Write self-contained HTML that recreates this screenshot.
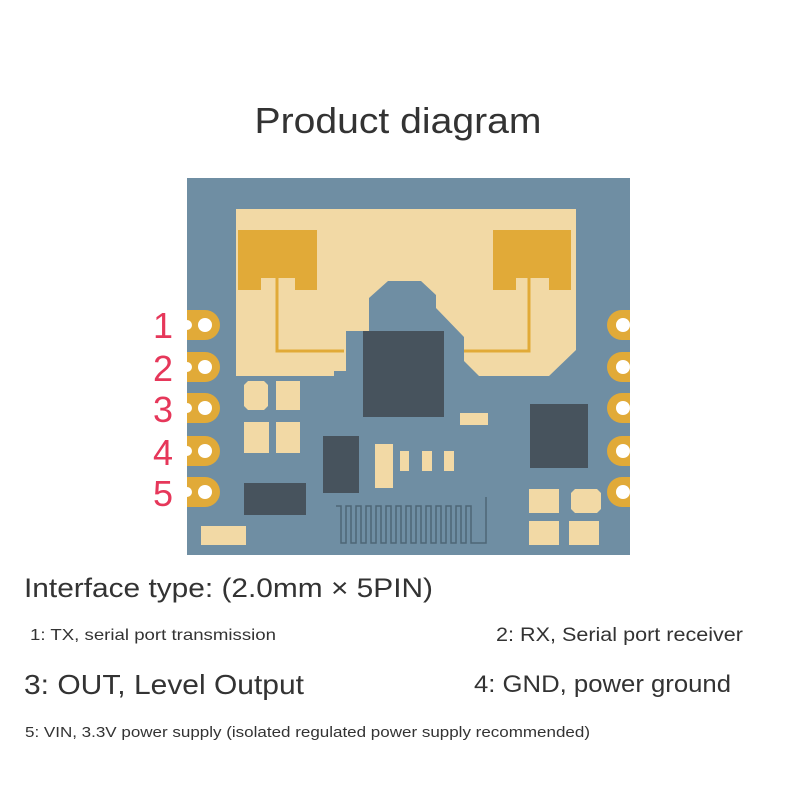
<!DOCTYPE html>
<html><head><meta charset="utf-8"><style>body{margin:0;background:#fff}svg{display:block}</style></head><body>
<svg width="800" height="800" viewBox="0 0 800 800" xmlns="http://www.w3.org/2000/svg" font-family="Liberation Sans, sans-serif">
<rect width="800" height="800" fill="#fff"/>
<text x="398" y="133" font-size="36" text-anchor="middle" fill="#333" textLength="287" lengthAdjust="spacingAndGlyphs">Product diagram</text>
<rect x="187" y="178" width="443" height="377" fill="#6f8ea3"/>
<polygon fill="#f2d9a5" points="236,209 576,209 576,350 549,376 479,376 464,361 464,337 436,308 436,295 421,281 388,281 369,298 369,331 346,331 346,371 334,371 334,376 236,376"/>
<polygon fill="#e1aa38" points="238,230 317,230 317,290 295,290 295,278 261,278 261,290 238,290"/>
<polygon fill="#e1aa38" points="493,230 571,230 571,290 549,290 549,278 516,278 516,290 493,290"/>
<path d="M277,278 V351 H344" fill="none" stroke="#e1aa38" stroke-width="3"/>
<path d="M529,278 V351 H464" fill="none" stroke="#e1aa38" stroke-width="3"/>
<rect x="363" y="331" width="81" height="86" fill="#47535d"/>
<rect x="460" y="413" width="28" height="12" fill="#f2d9a5"/>
<rect x="530" y="404" width="58" height="64" fill="#47535d"/>
<polygon fill="#f2d9a5" points="248,381 264,381 268,385 268,406 264,410 248,410 244,406 244,385"/>
<rect x="276" y="381" width="24" height="29" fill="#f2d9a5"/>
<rect x="244" y="422" width="25" height="31" fill="#f2d9a5"/>
<rect x="276" y="422" width="24" height="31" fill="#f2d9a5"/>
<rect x="244" y="483" width="62" height="32" fill="#47535d"/>
<rect x="201" y="526" width="45" height="19" fill="#f2d9a5"/>
<rect x="323" y="436" width="36" height="57" fill="#47535d"/>
<rect x="375" y="444" width="18" height="44" fill="#f2d9a5"/>
<rect x="400" y="451" width="9" height="20" fill="#f2d9a5"/>
<rect x="422" y="451" width="10" height="20" fill="#f2d9a5"/>
<rect x="444" y="451" width="10" height="20" fill="#f2d9a5"/>
<path d="M336,506 H341 V543 H346 V506 H351 V543 H356 V506 H361 V543 H366 V506 H371 V543 H376 V506 H381 V543 H386 V506 H391 V543 H396 V506 H401 V543 H406 V506 H411 V543 H416 V506 H421 V543 H426 V506 H431 V543 H436 V506 H441 V543 H446 V506 H451 V543 H456 V506 H461 V543 H466 V506 H471 V543 H486 V497" fill="none" stroke="#4e6676" stroke-width="1.5"/>
<rect x="529" y="489" width="30" height="24" fill="#f2d9a5"/>
<polygon fill="#f2d9a5" points="575,489 597,489 601,493 601,509 597,513 575,513 571,509 571,493"/>
<rect x="529" y="521" width="30" height="24" fill="#f2d9a5"/>
<rect x="569" y="521" width="30" height="24" fill="#f2d9a5"/>
<g fill="#e1aa38">
<path d="M187,310 H205 A15,15 0 0 1 205,340 H187 Z"/>
<path d="M187,352 H205 A15,15 0 0 1 205,382 H187 Z"/>
<path d="M187,393 H205 A15,15 0 0 1 205,423 H187 Z"/>
<path d="M187,436 H205 A15,15 0 0 1 205,466 H187 Z"/>
<path d="M187,477 H205 A15,15 0 0 1 205,507 H187 Z"/>
<path d="M630,310 H622 A15,15 0 0 0 622,340 H630 Z"/>
<path d="M630,352 H622 A15,15 0 0 0 622,382 H630 Z"/>
<path d="M630,393 H622 A15,15 0 0 0 622,423 H630 Z"/>
<path d="M630,436 H622 A15,15 0 0 0 622,466 H630 Z"/>
<path d="M630,477 H622 A15,15 0 0 0 622,507 H630 Z"/>
</g>
<g fill="#fff">
<circle cx="205" cy="325" r="7"/><circle cx="205" cy="367" r="7"/><circle cx="205" cy="408" r="7"/><circle cx="205" cy="451" r="7"/><circle cx="205" cy="492" r="7"/>
<circle cx="187" cy="325" r="5"/><circle cx="187" cy="367" r="5"/><circle cx="187" cy="408" r="5"/><circle cx="187" cy="451" r="5"/><circle cx="187" cy="492" r="5"/>
<circle cx="623" cy="325" r="7"/><circle cx="623" cy="367" r="7"/><circle cx="623" cy="408" r="7"/><circle cx="623" cy="451" r="7"/><circle cx="623" cy="492" r="7"/>
</g>
<g fill="#e6375a" font-size="36" text-anchor="middle">
<text x="163" y="338">1</text><text x="163" y="381">2</text><text x="163" y="422">3</text><text x="163" y="465">4</text><text x="163" y="506">5</text>
</g>
<g fill="#333">
<text x="24" y="597" font-size="27" textLength="409" lengthAdjust="spacingAndGlyphs">Interface type: (2.0mm × 5PIN)</text>
<text x="30" y="640" font-size="16" textLength="246" lengthAdjust="spacingAndGlyphs">1: TX, serial port transmission</text>
<text x="496" y="641" font-size="19" textLength="247" lengthAdjust="spacingAndGlyphs">2: RX, Serial port receiver</text>
<text x="24" y="694" font-size="28" textLength="280" lengthAdjust="spacingAndGlyphs">3: OUT, Level Output</text>
<text x="474" y="692" font-size="24" textLength="257" lengthAdjust="spacingAndGlyphs">4: GND, power ground</text>
<text x="25" y="737" font-size="15" textLength="565" lengthAdjust="spacingAndGlyphs">5: VIN, 3.3V power supply (isolated regulated power supply recommended)</text>
</g>
</svg>
</body></html>
